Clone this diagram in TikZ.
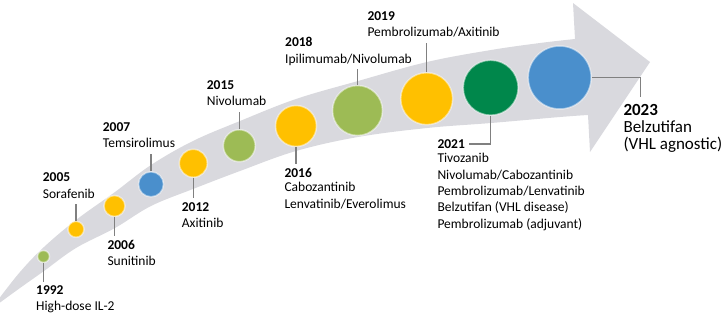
\documentclass[tikz,border=0pt]{standalone}
\usepackage{fontspec}
\setmainfont{Carlito}
\definecolor{bandgrey}{RGB}{217,217,222}
\definecolor{ticgrey}{RGB}{128,128,128}
\definecolor{mgold}{RGB}{255,192,0}
\definecolor{molive}{RGB}{157,187,85}
\definecolor{mblue}{RGB}{74,143,204}
\definecolor{mgreen}{RGB}{0,135,75}
\tikzset{
  dot/.style={circle,inner sep=0pt,minimum size=#1,draw=white,draw opacity=0.5,line width=1.5pt},
  year/.style={anchor=base west,inner sep=0pt,font=\bfseries\fontsize{13.5}{16.4}\selectfont},
  drug/.style={anchor=north west,inner sep=0pt,align=left,font=\fontsize{13.5}{16.4}\selectfont,execute at begin node=\strut},
  tic/.style={draw=ticgrey,line width=1.2pt}
}
\begin{document}
\begin{tikzpicture}[x=1pt,y=-1pt]
  \useasboundingbox (0,0) rectangle (724,317);
  % curved grey arrow
  \fill[bandgrey] plot[smooth,tension=0.6] coordinates {(-2,300) (20,272) (44,247) (76,220) (115,192) (151,165)
      (193,141) (240,121) (296,99) (358,81) (427,62) (491,50) (540,43) (575,39)}
    -- (573,3) -- (650,62) -- (590,152) -- (588,115)
    -- plot[smooth,tension=0.6] coordinates {(588,115) (560,117) (491,123) (427,128) (358,137) (296,151)
      (240,171) (193,189) (151,206) (115,228) (76,248) (44,271) (20,288) (-2,304)}
    -- cycle;
  % milestone circles
  \node[dot=12,fill=molive] (c1992) at (43.5,256.5) {};
  \node[dot=16,fill=mgold] (c2005) at (76,229.3) {};
  \node[dot=21,fill=mgold] (c2006) at (114.5,206) {};
  \node[dot=25,fill=mblue] (c2007) at (151,184.3) {};
  \node[dot=28,fill=mgold] (c2012) at (193.3,163.3) {};
  \node[dot=32,fill=molive] (c2015) at (239.3,145.7) {};
  \node[dot=41,fill=mgold] (c2016) at (296,126) {};
  \node[dot=50,fill=molive] (c2018) at (357.5,110.5) {};
  \node[dot=52,fill=mgold] (c2019) at (426.7,98.7) {};
  \node[dot=55,fill=mgreen] (c2021) at (490.7,87.7) {};
  \node[dot=63,fill=mblue] (c2023) at (559.7,77.5) {};
  % labels below the arrow
  \node[year] (y1992) at (36,294.3) {1992};
  \node[drug] (d1992) at (36,299.2) {High-dose IL-2};
  \node[year] (y2006) at (107.3,249.3) {2006};
  \node[drug] (d2006) at (107.3,254.2) {Sunitinib};
  \node[year] (y2012) at (181.7,211) {2012};
  \node[drug] (d2012) at (181.7,215.9) {Axitinib};
  \node[year] (y2016) at (284.3,177.3) {2016};
  \node[drug] (d2016) at (284.3,182.2) {Cabozantinib\\Lenvatinib/Everolimus};
  \node[year] (y2021) at (437.3,148.3) {2021};
  \node[drug] (d2021) at (437.3,153.2) {Tivozanib\\Nivolumab/Cabozantinib\\Pembrolizumab/Lenvatinib\\Belzutifan (VHL disease)\\Pembrolizumab (adjuvant)};
  % labels above the arrow
  \node[year] (y2005) at (42.7,181.7) {2005};
  \node[drug] (d2005) at (42.7,186.6) {Sorafenib};
  \node[year] (y2007) at (102.7,131.3) {2007};
  \node[drug] (d2007) at (102.7,136.2) {Temsirolimus};
  \node[year] (y2015) at (206.7,89.3) {2015};
  \node[drug] (d2015) at (206.7,94.2) {Nivolumab};
  \node[year] (y2018) at (285,46.7) {2018};
  \node[drug] (d2018) at (285,51.6) {Ipilimumab/Nivolumab};
  \node[year] (y2019) at (367.3,20) {2019};
  \node[drug] (d2019) at (367.3,24.9) {Pembrolizumab/Axitinib};
  % 2023 label, larger
  \node[year,font=\bfseries\fontsize{17}{17.5}\selectfont] (y2023) at (623.3,115) {2023};
  \node[drug,font=\fontsize{17}{17.5}\selectfont] (d2023) at (623.3,120.2) {Belzutifan\\(VHL agnostic)};
  % ticks from circles to labels
  \draw[tic,shorten >=3pt] (c1992.south) -- (c1992.south |- y1992.north);
  \draw[tic,shorten >=4pt] (c2006.south) -- (c2006.south |- y2006.north);
  \draw[tic,shorten >=4pt] (c2012.south) -- (c2012.south |- y2012.north);
  \draw[tic,shorten >=4pt] (c2016.south) -- (c2016.south |- y2016.north);
  \draw[tic,shorten >=1pt] (c2005.north) -- (c2005.north |- d2005.south);
  \draw[tic,shorten >=1pt] (c2007.north) -- (c2007.north |- d2007.south);
  \draw[tic,shorten >=1pt] (c2015.north) -- (c2015.north |- d2015.south);
  \draw[tic,shorten >=1pt] (c2018.north) -- (c2018.north |- d2018.south);
  \draw[tic,shorten >=1pt] (c2019.north) -- (c2019.north |- d2019.south);
  \draw[tic,shorten >=4pt] (c2021.south) |- (y2021.east);
  \draw[tic,shorten >=7pt] (c2023.east) -| (y2023.north);
\end{tikzpicture}
\end{document}
